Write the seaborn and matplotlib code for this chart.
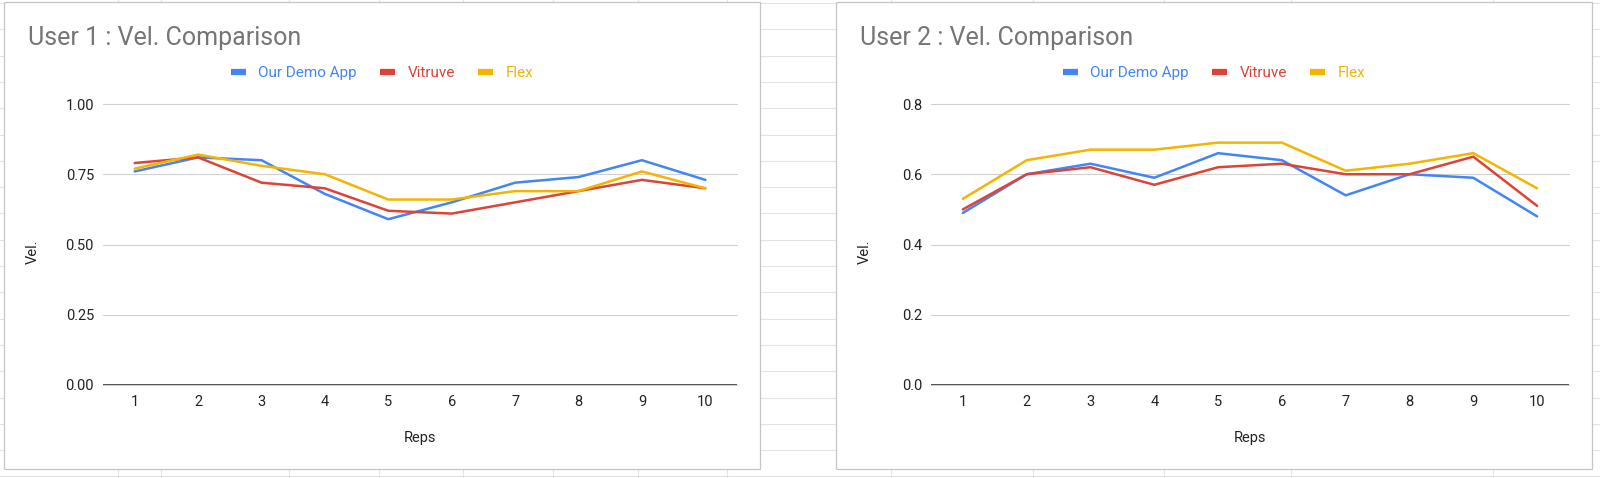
import matplotlib
matplotlib.use("Agg")
import matplotlib.pyplot as plt
from matplotlib.patches import Rectangle
from matplotlib.ticker import FormatStrFormatter
import numpy as np
import pandas as pd
import seaborn as sns

# ---- data ----
reps = list(range(1, 11))
series_names = ["Our Demo App", "Vitruve", "Flex"]
series_colors = ["#4285F4", "#DB4437", "#F4B400"]

user1_demo = [0.76, 0.81, 0.80, 0.68, 0.59, 0.65, 0.72, 0.74, 0.80, 0.73]
user1_vitruve = [0.79, 0.81, 0.72, 0.70, 0.62, 0.61, 0.65, 0.69, 0.73, 0.70]
user1_flex = [0.77, 0.82, 0.78, 0.75, 0.66, 0.66, 0.69, 0.69, 0.76, 0.70]

user2_demo = [0.49, 0.60, 0.63, 0.59, 0.66, 0.64, 0.54, 0.60, 0.59, 0.48]
user2_vitruve = [0.50, 0.60, 0.62, 0.57, 0.62, 0.63, 0.60, 0.60, 0.65, 0.51]
user2_flex = [0.53, 0.64, 0.67, 0.67, 0.69, 0.69, 0.61, 0.63, 0.66, 0.56]

titles = ["User 1 : Vel. Comparison", "User 2 : Vel. Comparison"]
y_ticks_1 = [0.0, 0.25, 0.5, 0.75, 1.0]
y_ticks_2 = [0.0, 0.2, 0.4, 0.6, 0.8]
y_fmt = ["%.2f", "%.1f"]

# ---- layout (pixels) ----
W, H = 1600, 478
panels = [(4, 2, 760, 469), (836, 2, 1592, 469)]
plot_boxes = [(103, 104, 737, 385), (931, 104, 1569, 385)]
title_x = [28, 860]
sheet_cols = [118, 161, 289, 379, 463, 553, 638, 727, 891, 1033, 1164, 1291, 1493]


def px_box(x0, y0, x1, y1):
    return [x0 / W, 1 - y1 / H, (x1 - x0) / W, (y1 - y0) / H]


def long_frame(demo, vitruve, flex):
    rows = []
    for name, vals in zip(series_names, [demo, vitruve, flex]):
        for r, v in zip(reps, vals):
            rows.append({"Reps": r, "Vel.": v, "Series": name})
    return pd.DataFrame(rows)


sns.set_style("white")
plt.rcParams["font.family"] = ["Roboto", "DejaVu Sans"]

fig = plt.figure(figsize=(W / 100, H / 100), dpi=100)

# spreadsheet background
bg = fig.add_axes([0, 0, 1, 1])
bg.set_xlim(0, W); bg.set_ylim(H, 0); bg.axis("off")
for y in np.arange(3, H, 26.3):
    bg.axhline(y, color="#e3e3e3", lw=0.8)
for x in sheet_cols:
    bg.axvline(x, color="#e3e3e3", lw=0.8)
for (x0, y0, x1, y1) in panels:
    bg.add_patch(Rectangle((x0, y0), x1 - x0, y1 - y0, facecolor="white",
                           edgecolor="#c4c4c4", lw=0.9, zorder=3))

frames = [long_frame(user1_demo, user1_vitruve, user1_flex),
          long_frame(user2_demo, user2_vitruve, user2_flex)]
yticks = [y_ticks_1, y_ticks_2]
palette = dict(zip(series_names, series_colors))

for i in range(2):
    ax = fig.add_axes(px_box(*plot_boxes[i]))
    ax.set_facecolor("none")
    for t in yticks[i]:
        ax.axhline(t, color="#d0d0d0", lw=0.8, zorder=0, clip_on=False)
    ax.axhline(0, color="#333333", lw=1.2, zorder=1)
    sns.lineplot(data=frames[i], x="Reps", y="Vel.", hue="Series",
                 hue_order=series_names, palette=palette, lw=1.8, ax=ax)
    handles, labels = ax.get_legend_handles_labels()
    ax.get_legend().remove()

    ax.set_xlim(0.5, 10.5)
    ax.set_xticks(reps)
    ax.set_ylim(0, yticks[i][-1])
    ax.set_yticks(yticks[i])
    ax.yaxis.set_major_formatter(FormatStrFormatter(y_fmt[i]))
    ax.grid(False)
    sns.despine(ax=ax, left=True, bottom=True)
    ax.tick_params(axis="both", length=0, labelsize=10.5, colors="#222222")
    ax.tick_params(axis="y", pad=6.5)
    ax.tick_params(axis="x", pad=7)

    x0, y0, x1, y1 = plot_boxes[i]
    ax.set_xlabel("Reps", fontsize=10.5, color="#222222")
    ax.xaxis.label.set_va("center")
    ax.xaxis.set_label_coords(0.5, -(438 - y1) / (y1 - y0))
    ax.set_ylabel("Vel.", fontsize=10.5, color="#222222")
    ax.yaxis.label.set_va("center")
    ax.yaxis.set_label_coords(-(x0 - title_x[i] - 5) / (x1 - x0), 0.473)

    px0, _, px1, _ = panels[i]
    leg = fig.legend(handles, labels, loc="center",
                     bbox_to_anchor=((px0 + px1) / 2 / W, 1 - 73 / H),
                     ncol=3, frameon=False, fontsize=11, handlelength=1.0,
                     handletextpad=0.8, columnspacing=1.5)
    for h, txt, c in zip(leg.legend_handles, leg.get_texts(), series_colors):
        h.set_linewidth(4.5)
        h.set_solid_capstyle("butt")
        txt.set_color(c)

    fig.text(title_x[i] / W, 1 - 45 / H, titles[i], fontsize=18,
             color="#757575", va="baseline")

fig.savefig("out.png", dpi=100)
